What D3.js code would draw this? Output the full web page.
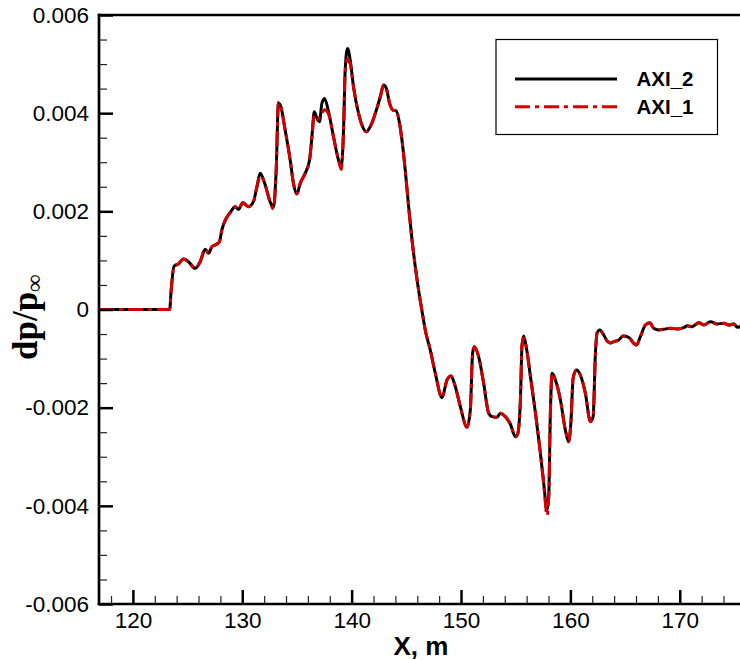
<!DOCTYPE html>
<html>
<head>
<meta charset="utf-8">
<script src="https://cdn.jsdelivr.net/npm/d3@7"></script>
<style>
  html, body { margin: 0; padding: 0; background: #fff; }
  svg { display: block; }
</style>
</head>
<body>
<svg id="chart" width="740" height="660"></svg>
<script>
// ---- data ----
const seriesNames = ["AXI_2", "AXI_1"];
const xTickValues = [120, 130, 140, 150, 160, 170];
const yTickValues = [-0.006, -0.004, -0.002, 0, 0.002, 0.004, 0.006];
const yTickLabels = ["-0.006", "-0.004", "-0.002", "0", "0.002", "0.004", "0.006"];

const axi2X = [116.9,123.36,123.5,123.77,124.16,124.62,125.08,125.69,126.15,126.61,126.91,127.22,127.68,127.91,128.13,128.53,128.89,129.35,129.65,130.05,130.57,131.02,131.34,131.64,132.10,132.49,132.85,133.10,133.31,133.53,133.92,134.38,134.68,134.99,135.30,135.75,136.15,136.37,136.58,136.83,137.06,137.28,137.52,137.89,138.34,138.80,139.05,139.26,139.41,139.62,139.87,140.17,140.63,140.94,141.34,141.70,142.31,142.62,142.92,143.17,143.47,143.78,144.08,144.38,144.60,144.90,145.21,145.52,145.82,146.12,146.52,146.73,147.19,147.65,148.26,148.72,149.09,149.48,149.94,150.55,150.85,151.06,151.22,151.61,152.07,152.53,152.84,153.29,153.60,154.05,154.51,154.97,155.18,155.43,155.58,155.73,155.98,156.35,156.81,157.26,157.56,157.87,158.02,158.17,158.33,158.63,159.09,159.54,159.84,160.06,160.25,160.55,160.91,161.37,161.83,162.08,162.29,162.44,162.68,163.05,163.36,163.66,163.96,164.42,164.82,165.33,165.79,166.04,166.40,166.86,167.26,167.62,168.08,168.54,169.15,169.76,170.37,170.68,171.13,171.74,172.20,172.81,173.42,174.03,174.49,174.95,175.26,175.6];
const axi2Y = [0,0,0.0004,0.000886,0.000927,0.001029,0.000974,0.000839,0.000974,0.001226,0.001145,0.001279,0.001334,0.001381,0.001619,0.001857,0.001972,0.002094,0.002041,0.002175,0.002094,0.002196,0.002501,0.002774,0.002536,0.00223,0.002077,0.002841,0.0042,0.00413,0.003656,0.003045,0.00257,0.002352,0.00257,0.002774,0.003045,0.003519,0.004029,0.003894,0.003825,0.0042,0.004301,0.004029,0.003519,0.003045,0.002908,0.003656,0.004878,0.00532,0.005082,0.004538,0.003996,0.003758,0.003621,0.003723,0.004098,0.004334,0.004572,0.004505,0.0042,0.004063,0.004049,0.003792,0.003452,0.002841,0.002094,0.001416,0.000872,0.000397,-0.000147,-0.000418,-0.000825,-0.001299,-0.001796,-0.001436,-0.001354,-0.001572,-0.00198,-0.002399,-0.002047,-0.000892,-0.000758,-0.000961,-0.001503,-0.002114,-0.002183,-0.002196,-0.002114,-0.002183,-0.002332,-0.002591,-0.002536,-0.001843,-0.000723,-0.00054,-0.000784,-0.001369,-0.002114,-0.002929,-0.00354,-0.004084,-0.003813,-0.002114,-0.001299,-0.001436,-0.001843,-0.002454,-0.002693,-0.002251,-0.001401,-0.001232,-0.001334,-0.001707,-0.002285,-0.002183,-0.000892,-0.000479,-0.000418,-0.000519,-0.000642,-0.000682,-0.000656,-0.000621,-0.00054,-0.000566,-0.000688,-0.000723,-0.000554,-0.000316,-0.000269,-0.000383,-0.000418,-0.000403,-0.000383,-0.000397,-0.000371,-0.00033,-0.00035,-0.000269,-0.000316,-0.000248,-0.000295,-0.000281,-0.000316,-0.000295,-0.000363,-0.000336];

const axi1X = axi2X.slice();
const axi1Y = [0,0,0.0004,0.000886,0.000927,0.001029,0.000974,0.000839,0.000974,0.001226,0.001145,0.001279,0.001334,0.001381,0.001619,0.001857,0.001972,0.002094,0.002041,0.002175,0.002094,0.002196,0.002501,0.002720,0.002536,0.00223,0.002050,0.002841,0.00422,0.00412,0.003656,0.003045,0.00257,0.002360,0.00257,0.002774,0.003045,0.003519,0.00395,0.00387,0.00392,0.00400,0.00407,0.00398,0.003519,0.003045,0.00285,0.003656,0.00485,0.00510,0.00500,0.004538,0.003996,0.003758,0.003621,0.003723,0.004098,0.004334,0.004572,0.004505,0.0042,0.004063,0.004049,0.003792,0.003452,0.002841,0.002094,0.001416,0.000872,0.000397,-0.000147,-0.000418,-0.000825,-0.001299,-0.001796,-0.001436,-0.001354,-0.001572,-0.00198,-0.002399,-0.002047,-0.000892,-0.000758,-0.000961,-0.001503,-0.002114,-0.002183,-0.002196,-0.002114,-0.002183,-0.002332,-0.002591,-0.002536,-0.001843,-0.000723,-0.00058,-0.000784,-0.001369,-0.002114,-0.002929,-0.00354,-0.00420,-0.003813,-0.002114,-0.001299,-0.001436,-0.001843,-0.002454,-0.002693,-0.002251,-0.001401,-0.001232,-0.001334,-0.001707,-0.002285,-0.002183,-0.000892,-0.000479,-0.000418,-0.000519,-0.000642,-0.000682,-0.000656,-0.000621,-0.00054,-0.000566,-0.000688,-0.000723,-0.000554,-0.000316,-0.000269,-0.000383,-0.000418,-0.000403,-0.000383,-0.000397,-0.000371,-0.00033,-0.00035,-0.000269,-0.000316,-0.000248,-0.000295,-0.000281,-0.000316,-0.000295,-0.000363,-0.000336];

// ---- layout ----
const svg = d3.select("#chart");
const mLeft = 99, mRight = 741, mTop = 15, mBottom = 604;
const x = d3.scaleLinear().domain([116.9, 175.6]).range([mLeft, mRight]);
const y = d3.scaleLinear().domain([-0.006, 0.006]).range([mBottom, mTop]);

svg.append("defs").append("clipPath").attr("id", "clip")
  .append("rect").attr("x", mLeft).attr("y", mTop).attr("width", mRight - mLeft).attr("height", mBottom - mTop);

// lines
const line = d3.line().x(d => x(d[0])).y(d => y(d[1])).curve(d3.curveMonotoneX);
const s2 = axi2X.map((v, i) => [v, axi2Y[i]]);
const s1 = axi1X.map((v, i) => [v, axi1Y[i]]);
const g = svg.append("g").attr("clip-path", "url(#clip)");
g.append("path").datum(s2).attr("d", line).attr("fill", "none")
  .attr("stroke", "#000").attr("stroke-width", 3).attr("stroke-linejoin", "round");
g.append("path").datum(s1).attr("d", line).attr("fill", "none")
  .attr("stroke", "#d40000").attr("stroke-width", 3).attr("stroke-dasharray", "15,5,4,5");

// axes: ticks pointing inward
const xMinor = d3.range(118, 176, 2).filter(v => v % 10 !== 0);
const yMinor = d3.range(-12, 13, 1).filter(v => v % 4 !== 0).map(v => v * 0.0005);

const xAxis = d3.axisBottom(x).tickValues(xTickValues).tickFormat(d3.format("d")).tickSize(-14).tickPadding(24);
const xAxisMinor = d3.axisBottom(x).tickValues(xMinor).tickFormat("").tickSize(-8);
const yAxis = d3.axisLeft(y).tickValues(yTickValues).tickFormat((d, i) => yTickLabels[i]).tickSize(-14).tickPadding(24);
const yAxisMinor = d3.axisLeft(y).tickValues(yMinor).tickFormat("").tickSize(-8);

const gx = svg.append("g").attr("transform", `translate(0,${mBottom})`).call(xAxis);
const gxm = svg.append("g").attr("transform", `translate(0,${mBottom})`).call(xAxisMinor);
const gy = svg.append("g").attr("transform", `translate(${mLeft},0)`).call(yAxis);
const gym = svg.append("g").attr("transform", `translate(${mLeft},0)`).call(yAxisMinor);

[gx, gy].forEach(a => {
  a.select(".domain").remove();
  a.selectAll(".tick line").attr("stroke", "#000").attr("stroke-width", 2.5);
  a.selectAll(".tick text").attr("font-family", "'Liberation Sans', Arial, sans-serif").attr("font-size", 22.5).attr("fill", "#000");
});
[gxm, gym].forEach(a => {
  a.select(".domain").remove();
  a.selectAll(".tick line").attr("stroke", "#222").attr("stroke-width", 1.2);
});
gx.selectAll(".tick text").attr("y", 8).attr("dy", "0.71em");
gy.selectAll(".tick text").attr("x", -10);

// frame lines
svg.append("line").attr("x1", mLeft).attr("x2", mLeft).attr("y1", mTop - 1.2).attr("y2", mBottom + 1.2).attr("stroke", "#000").attr("stroke-width", 2.7);
svg.append("line").attr("x1", mLeft - 1.2).attr("x2", 740).attr("y1", mBottom).attr("y2", mBottom).attr("stroke", "#000").attr("stroke-width", 2.7);
svg.append("line").attr("x1", mLeft - 1.2).attr("x2", 740).attr("y1", mTop).attr("y2", mTop).attr("stroke", "#000").attr("stroke-width", 2.5);

// axis titles
svg.append("text").attr("x", 421).attr("y", 655).attr("text-anchor", "middle")
  .attr("font-family", "'Liberation Sans', Arial, sans-serif").attr("font-weight", "bold").attr("font-size", 26)
  .text("X, m");

const yt = svg.append("text").attr("transform", "translate(37,360) rotate(-90)")
  .attr("font-family", "'Liberation Serif', 'Times New Roman', serif").attr("font-weight", "bold").attr("font-size", 35);
yt.append("tspan").text("dp/p");
yt.append("tspan").attr("font-size", 24).attr("dy", 5).text("∞");

// legend
const lg = svg.append("g");
lg.append("rect").attr("x", 496).attr("y", 39.5).attr("width", 221.5).attr("height", 95)
  .attr("fill", "#fff").attr("stroke", "#000").attr("stroke-width", 1.2);
const legY = [79, 106.7];
seriesNames.forEach((name, i) => {
  lg.append("line").attr("x1", 515).attr("x2", 617).attr("y1", legY[i]).attr("y2", legY[i])
    .attr("stroke", i === 0 ? "#000" : "#d40000").attr("stroke-width", 3)
    .attr("stroke-dasharray", i === 0 ? null : "15,5,4,5");
  lg.append("text").attr("x", 636.5).attr("y", legY[i] + 7)
    .attr("font-family", "'Liberation Sans', Arial, sans-serif").attr("font-weight", "bold").attr("font-size", 20.5)
    .text(name);
});
</script>
</body>
</html>
